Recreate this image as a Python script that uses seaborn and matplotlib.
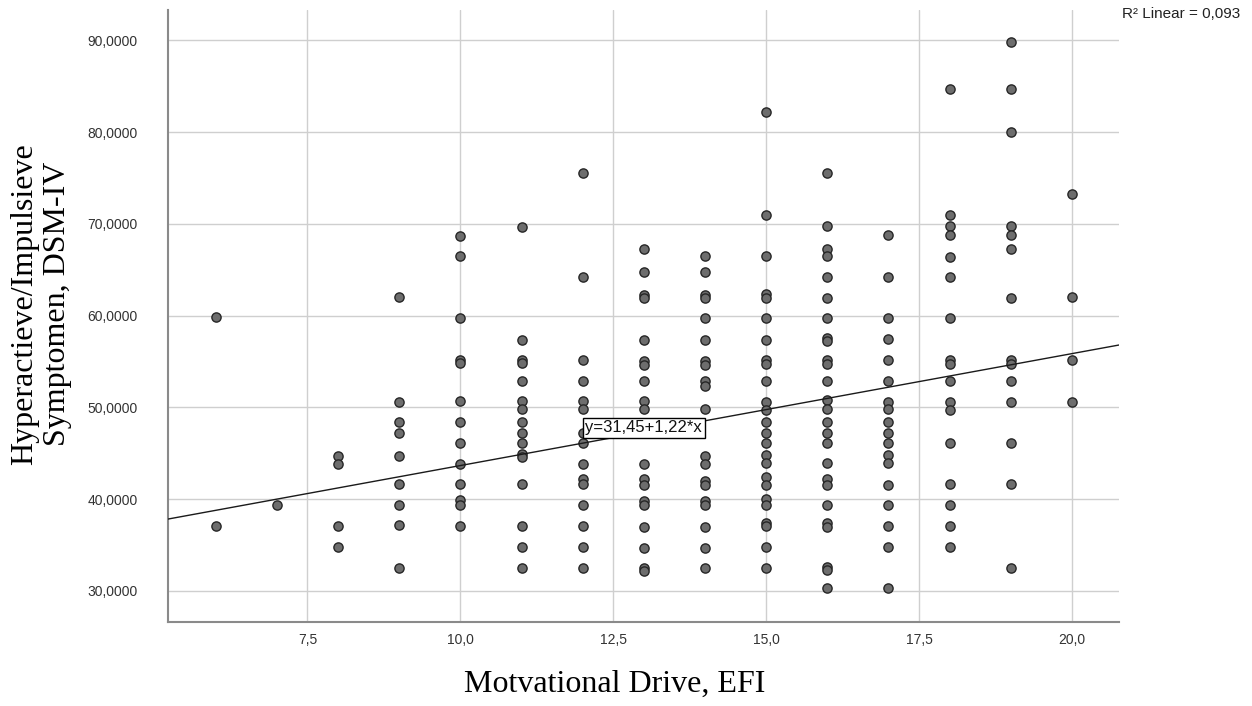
import matplotlib
matplotlib.use("Agg")
import matplotlib.pyplot as plt
import pandas as pd
import seaborn as sns

# Hyperactieve/Impulsieve score per EFI level
efi_levels = [6, 7, 8, 9, 10, 11, 12, 13, 14, 15, 16, 17, 18, 19, 20]

hyp_6 = [59.8, 37.1]
hyp_7 = [39.3]
hyp_8 = [44.7, 43.8, 37.1, 34.8]
hyp_9 = [62.0, 50.6, 48.4, 47.2, 44.7, 41.6, 39.3, 37.2, 32.5]
hyp_10 = [68.7, 66.5, 59.7, 55.2, 54.8, 50.7, 48.4, 46.1, 43.8, 41.6,
          39.9, 39.3, 37.1]
hyp_11 = [69.7, 57.3, 55.2, 54.8, 52.9, 50.7, 49.8, 48.4, 47.2, 46.1,
          44.9, 44.6, 41.6, 37.1, 34.8, 32.5]
hyp_12 = [75.5, 64.2, 55.2, 52.9, 50.7, 49.8, 47.2, 46.1, 43.8, 42.2,
          41.6, 39.3, 37.1, 34.8, 32.5]
hyp_13 = [67.3, 64.8, 62.2, 61.9, 57.3, 55.1, 54.6, 52.9, 50.7, 49.8,
          43.8, 42.2, 41.5, 39.8, 39.3, 36.9, 34.7, 32.5, 32.2]
hyp_14 = [66.5, 64.8, 62.2, 61.9, 59.7, 57.3, 55.1, 54.6, 52.9, 52.3,
          49.8, 44.7, 43.8, 42.0, 41.5, 39.8, 39.3, 36.9, 34.7, 32.5]
hyp_15 = [82.2, 71.0, 66.5, 62.4, 61.9, 59.7, 57.3, 55.2, 54.7, 52.9,
          50.6, 49.7, 48.4, 47.2, 46.1, 44.8, 43.9, 42.4, 41.5, 40.0,
          39.35, 37.35, 37.05, 34.8, 32.5]
hyp_16 = [75.5, 69.8, 67.3, 66.5, 64.2, 61.9, 59.7, 57.5, 57.2, 55.2,
          54.7, 52.9, 50.8, 49.8, 48.4, 47.2, 46.1, 43.9, 42.2, 41.5,
          39.35, 37.35, 37.0, 32.6, 32.25, 30.25]
hyp_17 = [68.8, 64.2, 59.7, 57.4, 55.2, 52.9, 50.6, 49.8, 48.4, 47.2,
          46.1, 44.8, 43.9, 41.5, 39.35, 37.05, 34.8, 30.25]
hyp_18 = [84.7, 71.0, 69.8, 68.8, 66.4, 64.2, 59.7, 55.2, 54.7, 52.9,
          50.6, 49.7, 46.1, 41.6, 39.3, 37.05, 34.8]
hyp_19 = [89.8, 84.7, 80.0, 69.8, 68.8, 67.2, 61.9, 55.2, 54.7, 52.9,
          50.6, 46.1, 41.6, 32.5]
hyp_20 = [73.3, 62.0, 55.2, 50.6]

fit_intercept = 31.45
fit_slope = 1.22
r_squared = 0.093

x_ticks = [7.5, 10.0, 12.5, 15.0, 17.5, 20.0]
y_ticks = [30, 40, 50, 60, 70, 80, 90]

columns = [hyp_6, hyp_7, hyp_8, hyp_9, hyp_10, hyp_11, hyp_12, hyp_13,
           hyp_14, hyp_15, hyp_16, hyp_17, hyp_18, hyp_19, hyp_20]
rows = [(lvl, v) for lvl, col in zip(efi_levels, columns) for v in col]
df = pd.DataFrame(rows, columns=["efi", "hyp"])

sns.set_style("white")
plt.rcParams['font.family'] = ['Liberation Sans', 'DejaVu Sans']

fig = plt.figure(figsize=(12.52, 7.06), dpi=100)
ax = fig.add_axes([0.1342, 0.119, 0.7596, 0.8668])

sns.scatterplot(data=df, x="efi", y="hyp", ax=ax, s=44, color="#6d6d6d",
                edgecolor="#262626", linewidth=1.0, zorder=3)
ax.axline((0, fit_intercept), slope=fit_slope, color="#1a1a1a", lw=1.0,
          zorder=4)

ax.set_xlim(5.22, 20.77)
ax.set_ylim(26.6, 93.3)
ax.set_xticks(x_ticks)
ax.set_xticklabels([f"{t:.1f}".replace(".", ",") for t in x_ticks])
ax.set_yticks(y_ticks)
ax.set_yticklabels([f"{t:.4f}".replace(".", ",") for t in y_ticks])
ax.tick_params(length=0, labelsize=10, colors="#333333")
ax.tick_params(axis="y", pad=22)
ax.tick_params(axis="x", pad=8)

ax.grid(True, color="#cfcfcf", lw=1.0)
ax.set_axisbelow(True)
for side in ["top", "right"]:
    ax.spines[side].set_visible(False)
for side in ["left", "bottom"]:
    ax.spines[side].set_color("#8a8a8a")
    ax.spines[side].set_linewidth(1.5)

serif = ['Liberation Serif', 'DejaVu Serif']
ax.set_xlabel("Motvational Drive, EFI", family=serif, fontsize=23,
              color="black")
ax.xaxis.set_label_coords(0.47, -0.078)
ax.set_ylabel("Hyperactieve/Impulsieve\nSymptomen, DSM-IV", family=serif,
              fontsize=23, linespacing=1.15, color="black")
ax.yaxis.label.set_va("center")
ax.yaxis.set_label_coords(-0.1335, 0.52)

eq = f"y={fit_intercept:.2f}+{fit_slope:.2f}*x".replace(".", ",")
ax.text(13.0, 47.75, eq, ha="center", va="center", fontsize=12, zorder=5,
        color="#111111",
        bbox=dict(boxstyle="square,pad=0.15", fc="white", ec="black", lw=1))

fig.text(1122 / 1252, 1 - 14 / 706,
         f"R² Linear = {r_squared:.3f}".replace(".", ","),
         ha="left", va="center", fontsize=11, color="#222222")

fig.savefig("out.png", dpi=100)
